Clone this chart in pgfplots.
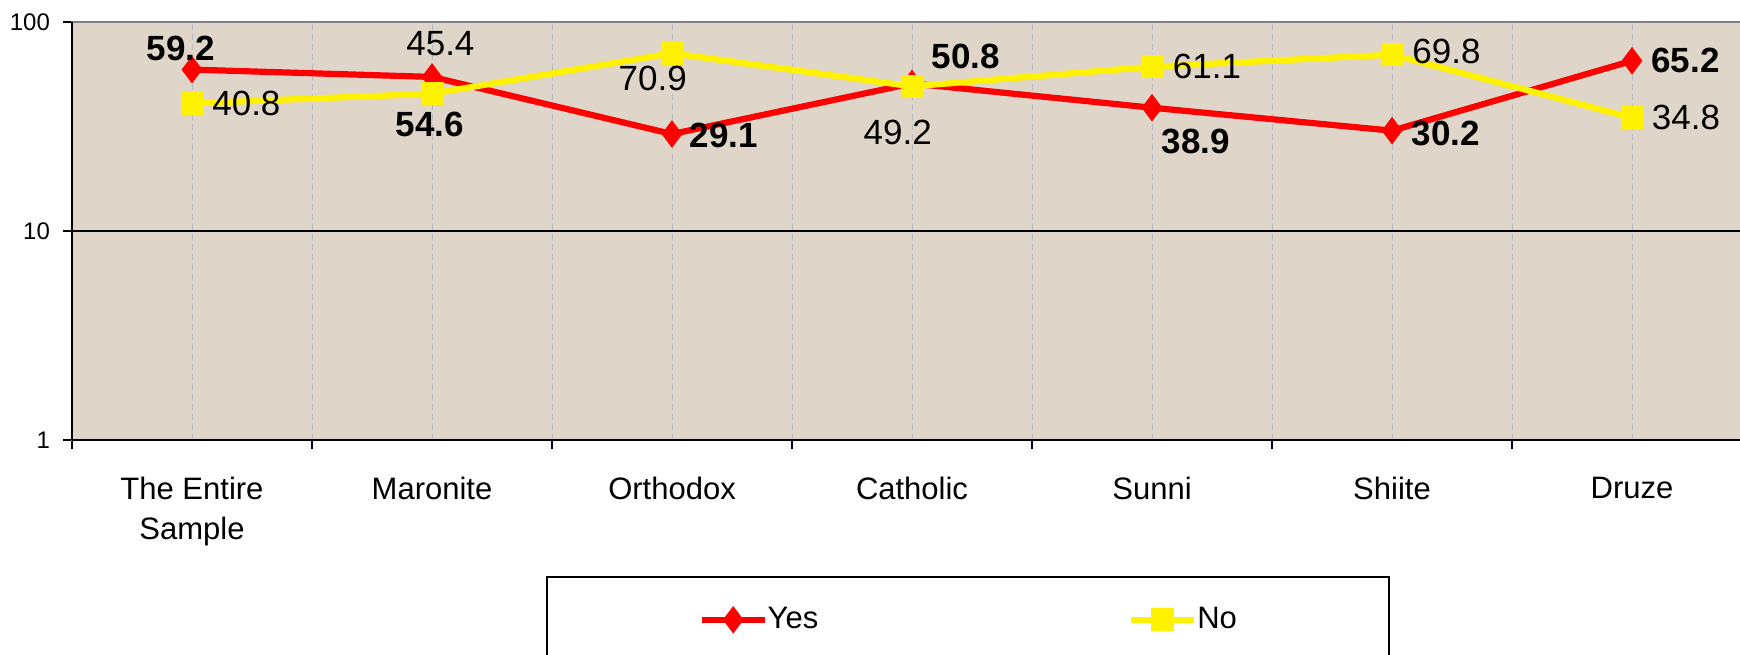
\documentclass[border=0pt]{standalone}
\usepackage{fontspec}
\setmainfont{Liberation Sans}
\usepackage{pgfplots}
\pgfplotsset{compat=1.18}
\usepackage{pgfplotstable}
\definecolor{bgbeige}{RGB}{223,214,201}
\definecolor{gridgray}{RGB}{182,186,194}
\newcommand\catfont{\fontsize{15.5}{20}\selectfont}
\newcommand\lblfont{\fontsize{17.5}{20}\selectfont}
\newcommand\tickfont{\fontsize{12}{14}\selectfont}

\pgfplotstableread{
x y lab dx dy
0 59.2 59.2 -5.7 10.8
1 54.6 54.6 -1 -24
2 29.1 29.1 25.8 -0.5
3 50.8 50.8 26.8 13.3
4 38.9 38.9 22 -17
5 30.2 30.2 27 -1.5
6 65.2 65.2 26.7 0
}\tabyes
\pgfplotstableread{
x y lab dx dy
0 40.8 40.8 27.2 0
1 45.4 45.4 4.2 25
2 70.9 70.9 -9.6 -12.5
3 49.2 49.2 -7.1 -23
4 61.1 61.1 27.5 0
5 69.8 69.8 27.2 1.5
6 34.8 34.8 27 0
}\tabno

\begin{document}
\begin{tikzpicture}
\useasboundingbox (0,0) rectangle (870pt,327pt);
\clip (0,0) rectangle (870pt,327pt);
\begin{axis}[
  at={(36pt,107pt)}, anchor=south west, width=840pt, height=209pt, scale only axis,
  xmin=-0.5, xmax=6.5, ymin=0, ymax=1,
  axis background/.style={fill=bgbeige},
  axis line style={draw=gray, line width=1.4pt},
  xtick={-0.5,0.5,...,6.5}, xticklabels={},
  minor x tick num=1,
  ytick={0,0.5,1}, yticklabels={1,10,100},
  yticklabel style={font=\tickfont, xshift=-3pt},
  xmajorgrids, xminorgrids,
  grid style={draw=gridgray, line width=0.5pt, dash pattern=on 3pt off 2pt},
  tick align=outside, xtick pos=left, ytick pos=left,
  major tick length=4.5pt, minor tick length=0pt,
  tick style={black, line width=0.8pt},
]
\addplot[draw=none] coordinates {(0,0.5)};
\end{axis}
\begin{axis}[
  at={(36pt,107pt)}, anchor=south west, width=840pt, height=209pt, scale only axis,
  xmin=-0.5, xmax=6.5, ymode=log, ymin=1, ymax=100,
  axis x line*=bottom, axis y line*=left,
  axis line style={black, line width=1.2pt, -},
  xtick={0,...,6},
  xticklabels={{The Entire\\Sample},Maronite,Orthodox,Catholic,Sunni,Shiite,Druze},
  xticklabel style={font=\catfont, align=center, anchor=north, inner sep=0pt, yshift=-18.5pt},
  ytick={10}, yticklabels={}, ymajorgrids, yminorticks=false,
  major grid style={black, line width=0.8pt, solid},
  major tick length=0pt,
  clip=false,
  legend columns=2,
  legend image code/.code={\draw[#1, mark repeat=2, mark phase=2] plot coordinates {(0pt,0pt) (15.7pt,0pt) (31.4pt,0pt)};},
  legend style={at={(0.2821,-0.3254)}, anchor=north west, draw=black, line width=0.8pt, fill=white,
    inner xsep=76pt, inner ysep=15pt,
    nodes={inner sep=0pt, font=\catfont, text=black},
    /tikz/every odd column/.append style={column sep=0pt},
    /tikz/every even column/.append style={column sep=155pt}},
]
\addplot[red, line width=3.1pt, mark=diamond*, mark size=6.5pt, mark options={solid, line width=0.5pt},
  nodes near coords, point meta=explicit symbolic,
  visualization depends on={\thisrow{dx} \as \dx},
  visualization depends on={\thisrow{dy} \as \dy},
  nodes near coords style={font=\lblfont\bfseries, text=black, anchor=center, xshift=\dx pt, yshift=\dy pt}]
  table[x=x, y=y, meta=lab]{\tabyes};
\addlegendentry{Yes}
\addplot[yellow, line width=3.1pt, mark=square*, mark size=5.5pt, mark options={solid, line width=0.5pt},
  nodes near coords, point meta=explicit symbolic,
  visualization depends on={\thisrow{dx} \as \dx},
  visualization depends on={\thisrow{dy} \as \dy},
  nodes near coords style={font=\lblfont, text=black, anchor=center, xshift=\dx pt, yshift=\dy pt}]
  table[x=x, y=y, meta=lab]{\tabno};
\addlegendentry{No}
\end{axis}
\end{tikzpicture}
\end{document}
